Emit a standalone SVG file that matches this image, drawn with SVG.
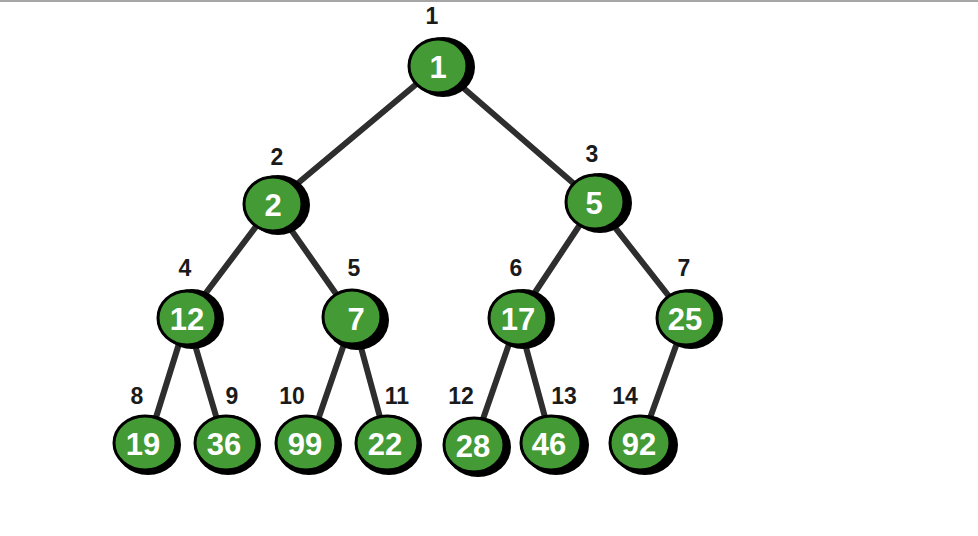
<svg xmlns="http://www.w3.org/2000/svg" width="978" height="536" viewBox="0 0 978 536">
<style>
.bg{fill:#ffffff}
.edge{stroke:#2e2e2e;stroke-width:6;stroke-linecap:round;fill:none}
.sh{fill:#000}
.nd{fill:#449a34;stroke:#000;stroke-width:3}
.val{font-family:"Liberation Sans",Arial,sans-serif;font-weight:bold;font-size:31px;fill:#fff;text-anchor:middle;dominant-baseline:central}
.idx{font-family:"Liberation Sans",Arial,sans-serif;font-weight:bold;font-size:23px;fill:#1a1a1a;text-anchor:middle}
</style>
<rect class="bg" x="0" y="0" width="978" height="536"/>
<rect x="0" y="0" width="978" height="2" fill="#a6a6a6"/>
<g id="connectors">
<line class="edge" x1="438" y1="66" x2="273" y2="204"/>
<line class="edge" x1="438" y1="66" x2="595" y2="202"/>
<line class="edge" x1="273" y1="204" x2="187" y2="318"/>
<line class="edge" x1="273" y1="204" x2="353" y2="318"/>
<line class="edge" x1="595" y1="202" x2="518" y2="318"/>
<line class="edge" x1="595" y1="202" x2="686" y2="318"/>
<line class="edge" x1="187" y1="318" x2="148" y2="443"/>
<line class="edge" x1="187" y1="318" x2="224" y2="443"/>
<line class="edge" x1="353" y1="318" x2="310" y2="443"/>
<line class="edge" x1="353" y1="318" x2="387" y2="443"/>
<line class="edge" x1="518" y1="318" x2="474" y2="445"/>
<line class="edge" x1="518" y1="318" x2="552" y2="443"/>
<line class="edge" x1="686" y1="318" x2="641" y2="443"/>
</g>
<g id="n1"><ellipse class="sh" cx="443" cy="67" rx="32" ry="30"/><ellipse class="nd" cx="438" cy="66" rx="29" ry="27"/><text class="val" x="438" y="67">1</text><text class="idx" x="432" y="24">1</text></g>
<g id="n2"><ellipse class="sh" cx="278" cy="205" rx="32" ry="30"/><ellipse class="nd" cx="273" cy="204" rx="29" ry="27"/><text class="val" x="273" y="205">2</text><text class="idx" x="277" y="165">2</text></g>
<g id="n3"><ellipse class="sh" cx="600" cy="203" rx="32" ry="30"/><ellipse class="nd" cx="595" cy="202" rx="29" ry="27"/><text class="val" x="594" y="203">5</text><text class="idx" x="592" y="162">3</text></g>
<g id="n4"><ellipse class="sh" cx="192" cy="319" rx="32" ry="30"/><ellipse class="nd" cx="187" cy="318" rx="29" ry="27"/><text class="val" x="187" y="319">12</text><text class="idx" x="185" y="276">4</text></g>
<g id="n5"><ellipse class="sh" cx="357" cy="320" rx="32" ry="30"/><ellipse class="nd" cx="352" cy="317" rx="29" ry="27"/><text class="val" x="356" y="319">7</text><text class="idx" x="354" y="276">5</text></g>
<g id="n6"><ellipse class="sh" cx="523" cy="319" rx="32" ry="30"/><ellipse class="nd" cx="518" cy="318" rx="29" ry="27"/><text class="val" x="518" y="319">17</text><text class="idx" x="516" y="276">6</text></g>
<g id="n7"><ellipse class="sh" cx="691" cy="319" rx="32" ry="30"/><ellipse class="nd" cx="686" cy="318" rx="29" ry="27"/><text class="val" x="685" y="319">25</text><text class="idx" x="684" y="276">7</text></g>
<g id="n8"><ellipse class="sh" cx="148" cy="445" rx="33" ry="30"/><ellipse class="nd" cx="145" cy="443" rx="31" ry="27"/><text class="val" x="143" y="444">19</text><text class="idx" x="137" y="404">8</text></g>
<g id="n9"><ellipse class="sh" cx="228" cy="445" rx="33" ry="30"/><ellipse class="nd" cx="226" cy="443" rx="31" ry="27"/><text class="val" x="224" y="444">36</text><text class="idx" x="232" y="404">9</text></g>
<g id="n10"><ellipse class="sh" cx="309" cy="445" rx="33" ry="30"/><ellipse class="nd" cx="306" cy="443" rx="30" ry="27"/><text class="val" x="305" y="444">99</text><text class="idx" x="292" y="404">10</text></g>
<g id="n11"><ellipse class="sh" cx="389" cy="445" rx="33" ry="30"/><ellipse class="nd" cx="387" cy="443" rx="31" ry="27"/><text class="val" x="385" y="444">22</text><text class="idx" x="397" y="404">11</text></g>
<g id="n12"><ellipse class="sh" cx="478" cy="447" rx="33" ry="30"/><ellipse class="nd" cx="474" cy="445" rx="30" ry="27"/><text class="val" x="473" y="446">28</text><text class="idx" x="461" y="404">12</text></g>
<g id="n13"><ellipse class="sh" cx="556" cy="445" rx="33" ry="30"/><ellipse class="nd" cx="551" cy="443" rx="30" ry="27"/><text class="val" x="549" y="444">46</text><text class="idx" x="564" y="404">13</text></g>
<g id="n14"><ellipse class="sh" cx="645" cy="445" rx="33" ry="30"/><ellipse class="nd" cx="640" cy="443" rx="30" ry="27"/><text class="val" x="639" y="444">92</text><text class="idx" x="625" y="404">14</text></g>
</svg>
